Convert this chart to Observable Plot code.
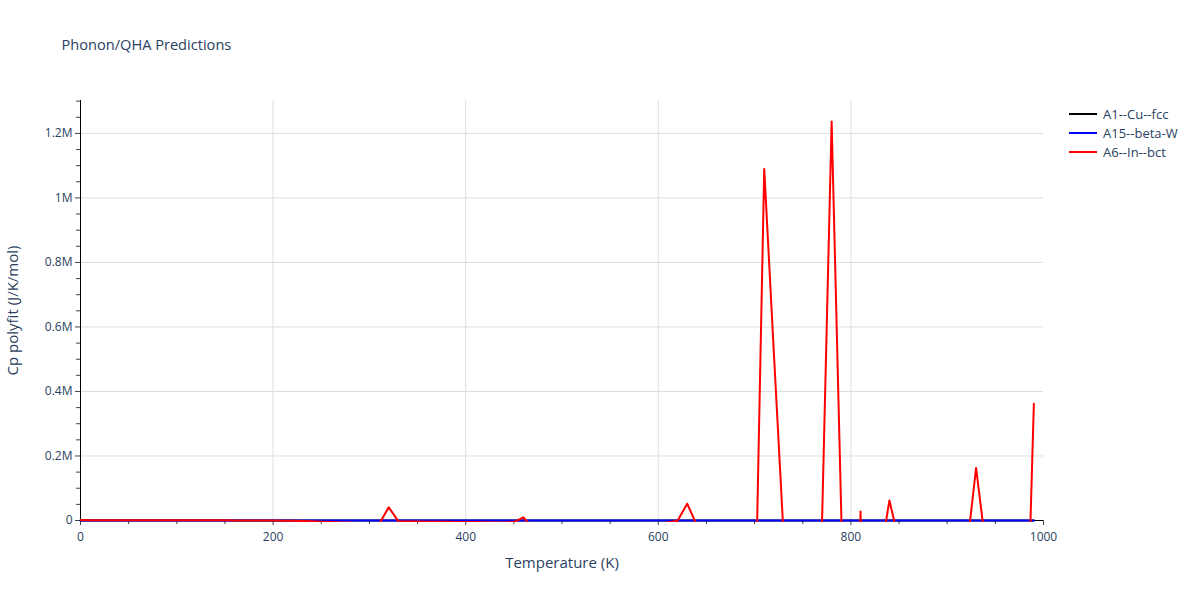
<!DOCTYPE html>
<html>
<head>
<meta charset="utf-8">
<script src="https://cdn.jsdelivr.net/npm/d3@7"></script>
<script src="https://cdn.jsdelivr.net/npm/@observablehq/plot@0.6"></script>
<style>
  html, body { margin: 0; padding: 0; background: white; }
  #chart { width: 1200px; height: 600px; }
</style>
</head>
<body>
<div id="chart"></div>
<script>
// ---- data ----
const temperature = [
  0, 10, 20, 30, 40, 50, 60, 70, 80, 90,
  100, 110, 120, 130, 140, 150, 160, 170, 180, 190,
  200, 210, 220, 230, 240, 250, 260, 270, 280, 290,
  300, 310, 320, 330, 340, 350, 360, 370, 380, 390,
  400, 410, 420, 430, 440, 450, 460, 470, 480, 490,
  500, 510, 520, 530, 540, 550, 560, 570, 580, 590,
  600, 610, 620, 630, 640, 650, 660, 670, 680, 690,
  700, 710, 720, 730, 740, 750, 760, 770, 780, 790,
  800, 810, 820, 830, 840, 850, 860, 870, 880, 890,
  900, 910, 920, 930, 940, 950, 960, 970, 980, 990
];
const cpA1 = [
  0, 0, 0, 0, 0, 0, 0, 0, 0, 0,
  0, 0, 0, 0, 0, 0, 0, 0, 0, 0,
  0, 0, 0, 0, 0, 0, 0, 0, 0, 0,
  0, 0, 0, 0, 0, 0, 0, 0, 0, 0,
  0, 0, 0, 0, 0, 0, 0, 0, 0, 0,
  0, 0, 0, 0, 0, 0, 0, 0, 0, 0,
  0, 0, 0, 0, 0, 0, 0, 0, 0, 0,
  0, 0, 0, 0, 0, 0, 0, 0, 0, 0,
  0, 0, 0, 0, 0, 0, 0, 0, 0, 0,
  0, 0, 0, 0, 0, 0, 0, 0, 0, 0
];
const cpA15 = [
  0, 0, 0, 0, 0, 0, 0, 0, 0, 0,
  0, 0, 0, 0, 0, 0, 0, 0, 0, 0,
  0, 0, 0, 0, 0, 0, 0, 0, 0, 0,
  0, 0, 0, 0, 0, 0, 0, 0, 0, 0,
  0, 0, 0, 0, 0, 0, 0, 0, 0, 0,
  0, 0, 0, 0, 0, 0, 0, 0, 0, 0,
  0, 0, 0, 0, 0, 0, 0, 0, 0, 0,
  0, 0, 0, 0, 0, 0, 0, 0, 0, 0,
  0, 0, 0, 0, 0, 0, 0, 0, 0, 0,
  0, 0, 0, 0, 0, 0, 0, 0, 0, 0
];
const cpA6 = [
  1200, 1150, 1100, 1050, 1000, 950, 900, 850, 800, 750,
  700, 650, 600, 550, 500, 400, 300, 200, 100, 0,
  -200, -500, -1000, -1500, -2500, -4000, -5000, -6000, -7000, -8000,
  -9000, -12000, 41000, -2000, -3000, -3000, -3500, -4000, -4000, -4500,
  -5000, -5000, -5500, -6000, -6000, -5000, 10000, -26000, -8000, -8000,
  -9000, -9000, -10000, -10000, -11000, -11000, -12000, -12000, -13000, -12000,
  -10000, -6000, -1000, 52000, -14000, -20000, -25000, -30000, -40000, -60000,
  -400000, 1090000, 520000, -40000, -90000, -120000, -90000, -10000, 1237000, 20000,
  -1500000, 28000, -1500000, -120000, 62000, -65000, -70000, -80000, -90000, -100000,
  -110000, -120000, -100000, 163000, -80000, -150000, -250000, -400000, -670000, 362000
];
const seriesNames = ["A1--Cu--fcc", "A15--beta-W", "A6--In--bct"];
const seriesColors = ["#000000", "#0000ff", "#ff0000"];
const xMajorTicks = [0, 200, 400, 600, 800, 1000];
const xMinorTicks = [50, 100, 150, 250, 300, 350, 450, 500, 550, 650, 700, 750, 850, 900, 950];
const yMajorTicks = [0, 200000, 400000, 600000, 800000, 1000000, 1200000];
const yMinorTicks = [50000, 100000, 150000, 250000, 300000, 350000, 450000, 500000, 550000,
  650000, 700000, 750000, 850000, 900000, 950000, 1050000, 1100000, 1150000, 1250000, 1300000];
const titleText = "Phonon/QHA Predictions";
const xLabel = "Temperature (K)";
const yLabel = "Cp polyfit (J/K/mol)";

// ---- build tables ----
const allSeries = [cpA1, cpA15, cpA6].map((vals, k) =>
  temperature.map((t, i) => ({T: t, v: vals[i], series: seriesNames[k]})));

const textColor = "#2a3f5f";
const gridColor = "#dddddd";
const fontFam = "'Open Sans', verdana, arial, sans-serif";
const yFmt = d => d === 0 ? "0" : `${+(d / 1e6).toFixed(2)}M`;

const chart = Plot.plot({
  width: 1200,
  height: 600,
  marginLeft: 80,
  marginRight: 157,
  marginTop: 100,
  marginBottom: 80,
  style: {fontFamily: fontFam, fontSize: "12px", color: textColor, background: "white"},
  x: {domain: [0, 1000]},
  y: {domain: [0, 1302000]},
  marks: [
    Plot.gridX([200, 400, 600, 800], {stroke: gridColor, strokeOpacity: 1}),
    Plot.gridY(yMajorTicks.filter(d => d > 0), {stroke: gridColor, strokeOpacity: 1}),
    Plot.axisX({ticks: xMajorTicks, tickSize: 5, tickPadding: 7, tickFormat: d => String(d), label: null, stroke: "#444", fill: textColor, fontSize: 12}),
    Plot.axisX({ticks: xMinorTicks, tickSize: 4, tickFormat: () => "", label: null, stroke: "#444"}),
    Plot.axisY({ticks: yMajorTicks, tickSize: 5, tickPadding: 3, tickFormat: yFmt, label: null, stroke: "#444", fill: textColor, fontSize: 12}),
    Plot.axisY({ticks: yMinorTicks, tickSize: 4, tickFormat: () => "", label: null, stroke: "#444"}),
    Plot.ruleX([0], {stroke: "black"}),
    Plot.ruleY([0], {stroke: "black"}),
    Plot.line(allSeries[0], {x: "T", y: "v", stroke: seriesColors[0], strokeWidth: 2}),
    Plot.line(allSeries[1], {x: "T", y: "v", stroke: seriesColors[1], strokeWidth: 2}),
    Plot.line(allSeries[2], {x: "T", y: "v", stroke: seriesColors[2], strokeWidth: 2, clip: true}),
    Plot.text([xLabel], {frameAnchor: "bottom", dy: 43, lineAnchor: "middle", textAnchor: "middle", fontSize: 15, fill: textColor}),
    Plot.text([yLabel], {frameAnchor: "left", dx: -67, rotate: -90, lineAnchor: "middle", textAnchor: "middle", fontSize: 15, fill: textColor}),
    Plot.text([titleText], {frameAnchor: "top-left", dx: -19, dy: -55, textAnchor: "start", lineAnchor: "middle", fontSize: 14.6, fill: textColor})
  ]
});
document.getElementById("chart").appendChild(chart);

// extend the clip region slightly so a line lying on zero is not cut in half
d3.select(chart).selectAll("clipPath rect").each(function() {
  const r = d3.select(this);
  const h = +r.attr("height"), y = +r.attr("y");
  if (!isNaN(h)) r.attr("height", h + 2);
  if (isNaN(y)) r.attr("y", 0);
});

// ---- legend ----
const svg = d3.select(chart);
const leg = svg.append("g").attr("font-family", fontFam).attr("font-size", 13).attr("text-anchor", "start");
seriesNames.forEach((name, i) => {
  const y = 114 + i * 19;
  leg.append("line").attr("x1", 1069).attr("x2", 1097).attr("y1", y).attr("y2", y)
    .attr("stroke", seriesColors[i]).attr("stroke-width", 2);
  leg.append("text").attr("x", 1103).attr("y", y).attr("dy", "0.35em")
    .attr("text-anchor", "start").attr("fill", textColor).text(name);
});
</script>
</body>
</html>
